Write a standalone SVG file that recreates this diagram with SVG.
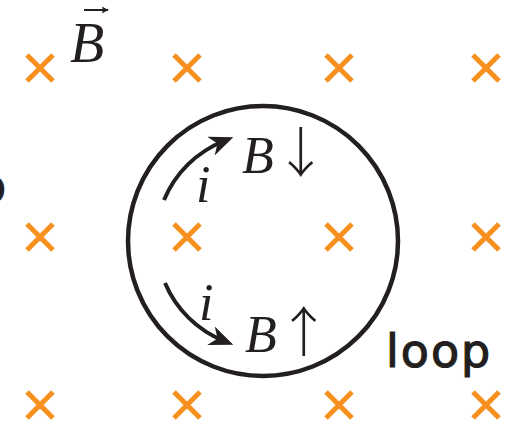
<svg xmlns="http://www.w3.org/2000/svg" width="508" height="427" viewBox="0 0 508 427">
<defs>
<style>
.x{stroke:#F7901E;stroke-width:5;stroke-linecap:butt;fill:none}
.m{font-family:"Liberation Serif","Times New Roman",serif;font-style:italic;fill:#231f20}
.s{font-family:"Noto Sans CJK JP","Liberation Serif",serif;font-style:normal;font-weight:300}
.arc{fill:none;stroke:#231f20;stroke-width:4}
.lbl{font-family:"DejaVu Sans","Noto Sans",sans-serif;fill:#231f20;stroke:#231f20;stroke-width:1.2}
</style>
<marker id="ah" viewBox="0 0 12 10" refX="7" refY="5" markerWidth="6" markerHeight="5" markerUnits="strokeWidth" orient="auto">
<path d="M0,0 L12,5 L0,10 L3.5,5 Z" fill="#231f20"/>
</marker>
<marker id="vh" viewBox="0 0 10 10" refX="9" refY="5" markerWidth="7" markerHeight="7" markerUnits="userSpaceOnUse" orient="auto">
<path d="M0,0 L10,5 L0,10 L2,5 Z" fill="#231f20"/>
</marker>
<g id="cross"><path class="x" d="M-13,-13 L13,13 M13,-13 L-13,13"/></g>
</defs>
<rect width="508" height="427" fill="#ffffff"/>
<g id="field">
<use href="#cross" x="40" y="68"/>
<use href="#cross" x="187" y="68"/>
<use href="#cross" x="339" y="68"/>
<use href="#cross" x="486" y="68"/>
<use href="#cross" x="40" y="237"/>
<use href="#cross" x="187" y="237"/>
<use href="#cross" x="339" y="237"/>
<use href="#cross" x="486" y="237"/>
<use href="#cross" x="40" y="405"/>
<use href="#cross" x="187" y="405"/>
<use href="#cross" x="339" y="405"/>
<use href="#cross" x="486" y="405"/>
</g>
<g id="bvec">
<text class="m" x="70" y="62" font-size="56">B</text>
<line x1="84" y1="10" x2="108" y2="10" stroke="#231f20" stroke-width="2" marker-end="url(#vh)"/>
</g>
<g id="loop">
<circle cx="263" cy="241" r="135" fill="none" stroke="#231f20" stroke-width="4.5"/>
<text class="lbl" x="386" y="367" font-size="46" letter-spacing="2">loop</text>
</g>
<g id="connectors">
<path class="arc" d="M164,200 A108,108 0 0 1 224,141" marker-end="url(#ah)"/>
<path class="arc" d="M165,283 A108,108 0 0 0 224,341" marker-end="url(#ah)"/>
</g>
<g id="labels">
<text class="m" x="196" y="202" font-size="52">i</text>
<text class="m" x="242" y="173" font-size="52">B<tspan class="s" font-size="54">↓</tspan></text>
<text class="m" x="199" y="320" font-size="52">i</text>
<text class="m" x="245" y="352" font-size="52">B<tspan class="s" font-size="54">↑</tspan></text>
</g>
<g id="edge">
<text class="lbl" x="-22" y="202" font-size="46">o</text>
</g>
</svg>
